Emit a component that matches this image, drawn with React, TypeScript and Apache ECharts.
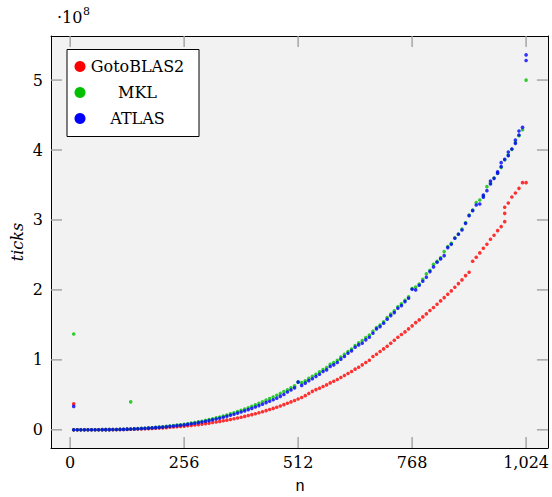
import React, { useEffect, useRef } from "react";
import * as echarts from "echarts";

// matrix size n
const nValues = [
  8, 16, 24, 32, 40, 48, 56, 64, 72, 80, 88, 96, 104, 112, 120, 128,
  136, 144, 152, 160, 168, 176, 184, 192, 200, 208, 216, 224, 232, 240, 248, 256,
  264, 272, 280, 288, 296, 304, 312, 320, 328, 336, 344, 352, 360, 368, 376, 384,
  392, 400, 408, 416, 424, 432, 440, 448, 456, 464, 472, 480, 488, 496, 504, 512,
  520, 528, 536, 544, 552, 560, 568, 576, 584, 592, 600, 608, 616, 624, 632, 640,
  648, 656, 664, 672, 680, 688, 696, 704, 712, 720, 728, 736, 744, 752, 760, 768,
  776, 784, 792, 800, 808, 816, 824, 832, 840, 848, 856, 864, 872, 880, 888, 896,
  904, 912, 920, 928, 936, 944, 952, 960, 968, 976, 984, 992, 1000, 1008, 1016, 1024,
];

// ticks, in units of 10^8
const gotoBLAS2 = [
  0.0, 0.0, 0.0, 0.0, 0.0, 0.0, 0.001, 0.001, 0.001, 0.002, 0.002, 0.003, 0.003, 0.004, 0.005, 0.006,
  0.008, 0.009, 0.011, 0.013, 0.015, 0.017, 0.02, 0.022, 0.025, 0.028, 0.032, 0.036, 0.04, 0.044, 0.049, 0.053,
  0.058, 0.064, 0.069, 0.075, 0.082, 0.089, 0.096, 0.104, 0.112, 0.12, 0.129, 0.138, 0.148, 0.158, 0.169, 0.18,
  0.192, 0.204, 0.217, 0.23, 0.244, 0.259, 0.274, 0.29, 0.306, 0.323, 0.341, 0.36, 0.379, 0.399, 0.419, 0.44,
  0.462, 0.488, 0.52, 0.55, 0.575, 0.595, 0.619, 0.643, 0.671, 0.695, 0.719, 0.748, 0.776, 0.805, 0.833, 0.867,
  0.895, 0.929, 0.962, 0.995, 1.048, 1.081, 1.119, 1.157, 1.195, 1.238, 1.281, 1.324, 1.362, 1.4, 1.443, 1.486,
  1.533, 1.571, 1.614, 1.657, 1.705, 1.748, 1.795, 1.843, 1.89, 1.938, 1.986, 2.038, 2.09, 2.143, 2.205, 2.252,
  2.41, 2.467, 2.529, 2.595, 2.652, 2.724, 2.781, 2.848, 2.905, 2.976, 3.243, 3.329, 3.386, 3.452, 3.533, 3.533,
];
const mkl = [
  0.0, 0.0, 0.0, 0.0, 0.0, 0.001, 0.001, 0.001, 0.002, 0.002, 0.003, 0.004, 0.005, 0.007, 0.008, 0.01,
  0.012, 0.014, 0.017, 0.02, 0.023, 0.027, 0.03, 0.035, 0.039, 0.044, 0.049, 0.055, 0.061, 0.067, 0.073, 0.08,
  0.087, 0.095, 0.104, 0.113, 0.123, 0.134, 0.145, 0.157, 0.17, 0.183, 0.197, 0.212, 0.228, 0.244, 0.261, 0.278,
  0.296, 0.315, 0.336, 0.357, 0.379, 0.401, 0.424, 0.447, 0.47, 0.494, 0.52, 0.546, 0.573, 0.6, 0.628, 0.685,
  0.675, 0.7, 0.735, 0.765, 0.795, 0.83, 0.862, 0.89, 0.935, 0.96, 0.995, 1.04, 1.078, 1.12, 1.155, 1.205,
  1.245, 1.275, 1.318, 1.355, 1.41, 1.462, 1.498, 1.545, 1.605, 1.655, 1.7, 1.76, 1.8, 1.85, 1.9, 2.02,
  2.04, 2.085, 2.15, 2.229, 2.28, 2.367, 2.41, 2.46, 2.548, 2.62, 2.665, 2.745, 2.8, 2.87, 2.96, 3.07,
  3.14, 3.248, 3.286, 3.34, 3.476, 3.53, 3.6, 3.67, 3.752, 3.86, 3.93, 4.01, 4.11, 4.205, 4.29, 5.0,
];
const atlas = [
  0.0, 0.0, 0.0, 0.0, 0.0, 0.001, 0.001, 0.001, 0.002, 0.002, 0.003, 0.004, 0.005, 0.006, 0.007, 0.009,
  0.011, 0.013, 0.015, 0.018, 0.021, 0.024, 0.027, 0.031, 0.035, 0.039, 0.044, 0.05, 0.055, 0.06, 0.066, 0.071,
  0.078, 0.086, 0.094, 0.103, 0.112, 0.122, 0.132, 0.143, 0.155, 0.166, 0.179, 0.193, 0.208, 0.223, 0.239, 0.255,
  0.271, 0.288, 0.306, 0.326, 0.346, 0.366, 0.388, 0.408, 0.43, 0.452, 0.478, 0.505, 0.54, 0.57, 0.6, 0.681,
  0.635, 0.667, 0.703, 0.73, 0.762, 0.795, 0.833, 0.857, 0.905, 0.929, 0.962, 1.01, 1.048, 1.095, 1.129, 1.181,
  1.214, 1.238, 1.286, 1.324, 1.381, 1.443, 1.476, 1.524, 1.581, 1.633, 1.676, 1.738, 1.776, 1.833, 1.881, 2.01,
  2.0, 2.067, 2.124, 2.181, 2.262, 2.329, 2.395, 2.443, 2.49, 2.605, 2.652, 2.738, 2.795, 2.857, 2.952, 3.062,
  3.133, 3.214, 3.229, 3.357, 3.419, 3.514, 3.595, 3.667, 3.762, 3.867, 3.919, 4.014, 4.095, 4.214, 4.324, 5.28,
];

// repeated measurements / outliers: [n, ticks / 10^8]
const gotoBLAS2Extra = [[8, 0.37], [976, 3.095], [976, 3.181]];
const mklExtra = [[8, 1.37], [136, 0.4]];
const atlasExtra = [[8, 0.335], [928, 3.324], [944, 3.557], [960, 3.69], [968, 3.819], [984, 3.971], [1000, 4.143], [1008, 4.271], [1024, 5.36]];

const xTicks = [0, 256, 512, 768, 1024];
const yTicks = [0, 1, 2, 3, 4, 5];

const seriesNames = ["GotoBLAS2", "MKL", "ATLAS"];
const seriesColors = ["#ff0000", "#00c000", "#0000ff"];

const SERIF = "DejaVu Serif";
const X_MIN = -43;
const X_MAX = 1073;
const Y_MIN = -0.26;
const Y_MAX = 5.63;

function App() {
  const ref = useRef<HTMLDivElement>(null);
  useEffect(() => {
    if (!ref.current) return;
    const chart = echarts.init(ref.current, null, { renderer: "svg" });
    const toPairs = (arr: number[]) => nValues.map((n, i) => [n, arr[i]]);
    const datasets = [
      toPairs(gotoBLAS2).concat(gotoBLAS2Extra),
      toPairs(mkl).concat(mklExtra),
      toPairs(atlas).concat(atlasExtra),
    ];
    const axisLine = { show: true, onZero: false, lineStyle: { color: "#000", width: 1 } };
    const labelStyle = { fontFamily: SERIF, fontSize: 16, color: "#000" };
    const fmtX = (v: number) => (v >= 1000 ? "1,024" : String(v));
    const legendItems: any[] = [];
    seriesNames.forEach((name, i) => {
      const cy = 66.5 + i * 26;
      legendItems.push({
        type: "circle",
        shape: { cx: 80, cy, r: 5.5 },
        style: { fill: seriesColors[i] },
      });
      legendItems.push({
        type: "text",
        x: 137.5,
        y: cy,
        style: { text: name, fontFamily: SERIF, fontSize: 16, fill: "#000", align: "center", verticalAlign: "middle" },
      });
    });
    const TL = 11;
    const tickStyle = { stroke: "#a0a0a0", lineWidth: 1.4, fill: "none" };
    // inner tick marks on all four sides, drawn through the axes' own scales
    const tickSeries = (values: number[], isX: boolean) => ({
      type: "custom",
      coordinateSystem: "cartesian2d",
      xAxisIndex: 0,
      yAxisIndex: 0,
      silent: true,
      z: 6,
      clip: false,
      encode: { x: 0, y: 1 },
      data: values.map((v) => (isX ? [v, 0] : [0, v])),
      renderItem: (params: any, api: any) => {
        if (isX) {
          const v = api.value(0);
          const b = api.coord([v, Y_MIN]);
          const t = api.coord([v, Y_MAX]);
          return {
            type: "group",
            children: [
              { type: "line", shape: { x1: b[0], y1: b[1], x2: b[0], y2: b[1] - TL }, style: tickStyle },
              { type: "line", shape: { x1: t[0], y1: t[1], x2: t[0], y2: t[1] + TL }, style: tickStyle },
            ],
          };
        }
        const v = api.value(1);
        const l = api.coord([X_MIN, v]);
        const r = api.coord([X_MAX, v]);
        return {
          type: "group",
          children: [
            { type: "line", shape: { x1: l[0], y1: l[1], x2: l[0] + TL, y2: l[1] }, style: tickStyle },
            { type: "line", shape: { x1: r[0], y1: r[1], x2: r[0] - TL, y2: r[1] }, style: tickStyle },
          ],
        };
      },
    });
    chart.setOption({
      animation: false,
      backgroundColor: "#fff",
      grid: { left: 51, top: 36, width: 497, height: 412, show: true, backgroundColor: "#f2f2f2", borderWidth: 0 },
      xAxis: [
        {
          type: "value", position: "bottom", min: X_MIN, max: X_MAX,
          axisLine,
          axisTick: { show: false },
          axisLabel: { ...labelStyle, margin: 6, customValues: xTicks, formatter: fmtX },
          splitLine: { show: false },
        },
        {
          type: "value", position: "top", min: X_MIN, max: X_MAX,
          axisLine,
          axisTick: { show: false },
          axisLabel: { show: false },
          splitLine: { show: false },
        },
      ],
      yAxis: [
        {
          type: "value", position: "left", min: Y_MIN, max: Y_MAX,
          axisLine,
          axisTick: { show: false },
          axisLabel: { ...labelStyle, margin: 8, customValues: yTicks },
          splitLine: { show: false },
        },
        {
          type: "value", position: "right", min: Y_MIN, max: Y_MAX,
          axisLine,
          axisTick: { show: false },
          axisLabel: { show: false },
          splitLine: { show: false },
        },
      ],
      series: [
        tickSeries(xTicks, true),
        tickSeries(yTicks, false),
        ...datasets.map((data, i) => ({
          type: "scatter",
          name: seriesNames[i],
          xAxisIndex: 0,
          yAxisIndex: 0,
          data,
          symbol: "circle",
          symbolSize: 3.6,
          itemStyle: { color: seriesColors[i] },
          z: 2 + i,
        })),
      ],
      graphic: [
        { type: "text", x: 57, y: 17, style: { text: "·10", fontFamily: SERIF, fontSize: 16, fill: "#000", verticalAlign: "middle" } },
        { type: "text", x: 83, y: 11, style: { text: "8", fontFamily: SERIF, fontSize: 11, fill: "#000", verticalAlign: "middle" } },
        {
          type: "text", x: 17, y: 242, rotation: Math.PI / 2,
          style: { text: "ticks", fontFamily: SERIF, fontStyle: "italic", fontSize: 16, fill: "#000", align: "center", verticalAlign: "middle" },
        },
        {
          type: "text", x: 300, y: 487,
          style: { text: "n", fontFamily: "Liberation Mono", fontSize: 16, fill: "#000", align: "center", verticalAlign: "middle" },
        },
        {
          type: "group",
          z: 100,
          children: [
            { type: "rect", shape: { x: 67, y: 49.5, width: 132, height: 87 }, style: { fill: "#fff", stroke: "#000", lineWidth: 1 } },
            ...legendItems,
          ],
        },
      ],
    });
    return () => chart.dispose();
  }, []);
  return <div ref={ref} style={{ position: "absolute", left: 0, top: 0, width: 552, height: 497 }} />;
}

export default App;
